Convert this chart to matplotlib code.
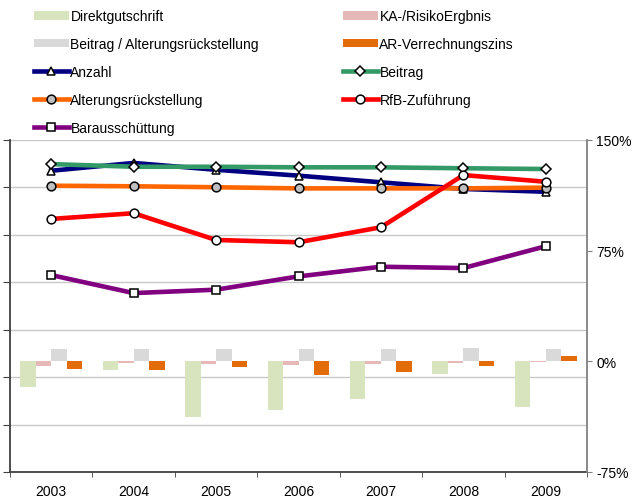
import matplotlib
matplotlib.use("Agg")
import matplotlib.pyplot as plt
import numpy as np
from matplotlib.patches import Patch
from matplotlib.ticker import FuncFormatter

plt.rcParams['font.family'] = ['Liberation Sans', 'DejaVu Sans']

years = ['2003', '2004', '2005', '2006', '2007', '2008', '2009']

# bar series (right axis, percent)
direktgutschrift = [-17.4, -6.1, -37.6, -32.9, -25.7, -8.8, -30.9]
ka_risiko = [-3.2, -1.1, -1.8, -2.5, -1.8, -1.1, -0.7]
beitrag_ar = [8.1, 8.1, 8.1, 8.1, 8.1, 8.8, 8.1]
ar_zins = [-5.4, -6.1, -4.1, -9.2, -7.4, -3.4, 3.4]

# line series (left axis, index)
anzahl = [108.8, 112.9, 109.3, 106.2, 102.7, 99.2, 97.7]
beitrag = [112.3, 110.9, 110.9, 110.6, 110.6, 110.1, 109.7]
alterungsrueckstellung = [100.9, 100.6, 100.1, 99.5, 99.5, 99.5, 99.9]
rfb_zufuehrung = [83.4, 86.4, 72.3, 71.1, 79.0, 106.5, 103.0]
barausschuettung = [53.8, 44.3, 46.1, 53.1, 58.2, 57.5, 69.0]

left_ticks = [-50, -25, 0, 25, 50, 75, 100, 125]
right_ticks = [-75, 0, 75, 150]

FS = 10
W, H = 641, 502
fig = plt.figure(figsize=(W / 100, H / 100), dpi=100)
ax = fig.add_axes([10 / W, 1 - 473 / H, 577 / W, 332 / H])
x = np.arange(len(years))

# primary axis: gridlines only
ax.set_xlim(-0.5, len(years) - 0.5)
ax.set_ylim(left_ticks[0], left_ticks[-1])
ax.set_yticks(left_ticks)
ax.tick_params(axis='y', which='major', direction='out', length=5,
               color='#404040', labelleft=False)
ax.grid(axis='y', color='#C8C8C8', linewidth=1.0)
ax.set_axisbelow(True)
ax.set_xticks(x)
ax.set_xticklabels(years, fontsize=FS)
ax.set_xticks(np.arange(-0.5, len(years)), minor=True)
ax.tick_params(axis='x', which='major', length=0, pad=9)
ax.tick_params(axis='x', which='minor', direction='out', length=3.5,
               color='#404040')
for s in ['top', 'right']:
    ax.spines[s].set_visible(False)
ax.spines['left'].set_color('#404040')
ax.spines['left'].set_linewidth(1.3)
ax.spines['bottom'].set_color('#404040')
ax.spines['bottom'].set_linewidth(1.3)

# secondary axis: bars in percent
ax2 = ax.twinx()
ax2.set_ylim(right_ticks[0], right_ticks[-1])
ax2.set_yticks(right_ticks)
ax2.yaxis.set_major_formatter(FuncFormatter(lambda v, p: f"{v:.0f}%"))
ax2.tick_params(axis='y', direction='out', length=3.5, pad=3,
                color='#808080', labelsize=FS)
for s in ['top', 'left', 'bottom']:
    ax2.spines[s].set_visible(False)
ax2.spines['right'].set_color('#808080')
ax2.spines['right'].set_linewidth(1.3)

bw = 0.188
bar_series = [
    (direktgutschrift, '#D7E4BD', 'Direktgutschrift'),
    (ka_risiko, '#E6B9B8', 'KA-/RisikoErgbnis'),
    (beitrag_ar, '#D9D9D9', 'Beitrag / Alterungsrückstellung'),
    (ar_zins, '#E36C09', 'AR-Verrechnungszins'),
]
for i, (vals, col, lab) in enumerate(bar_series):
    ax2.bar(x + (i - 1.5) * bw, vals, width=bw, color=col, linewidth=0)

# third axis: lines on the index scale
ax3 = ax.twinx()
ax3.set_ylim(left_ticks[0], left_ticks[-1])
ax3.set_yticks([])
for s in ax3.spines.values():
    s.set_visible(False)

LW = 3.3
MS = 6.3
line_series = [
    (anzahl, '#000080', '^', 'white', 'Anzahl'),
    (beitrag, '#339966', 'D', 'white', 'Beitrag'),
    (alterungsrueckstellung, '#FF6600', 'o', '#BFBFBF', 'Alterungsrückstellung'),
    (rfb_zufuehrung, '#FF0000', 'o', 'white', 'RfB-Zuführung'),
    (barausschuettung, '#800080', 's', 'white', 'Barausschüttung'),
]
handles = {}
for vals, col, mk, mfc, lab in line_series:
    ms = MS * 0.85 if mk == 'D' else MS
    ln, = ax3.plot(x, vals, color=col, linewidth=LW, marker=mk,
                   markersize=ms, markerfacecolor=mfc,
                   markeredgecolor='black', markeredgewidth=1.1,
                   solid_joinstyle='round')
    handles[lab] = ln
for vals, col, lab in bar_series:
    handles[lab] = Patch(facecolor=col, edgecolor='none')

col1 = ['Direktgutschrift', 'Beitrag / Alterungsrückstellung', 'Anzahl',
        'Alterungsrückstellung', 'Barausschüttung']
col2 = ['KA-/RisikoErgbnis', 'AR-Verrechnungszins', 'Beitrag', 'RfB-Zuführung']

leg_kw = dict(loc='upper left', frameon=False, fontsize=FS, borderpad=0,
              borderaxespad=0, handlelength=2.5, handletextpad=0.12,
              labelspacing=1.0, handleheight=0.6)
fig.legend([handles[k] for k in col1], col1,
           bbox_to_anchor=(34 / W, 1 - 10 / H), **leg_kw)
fig.legend([handles[k] for k in col2], col2,
           bbox_to_anchor=(343 / W, 1 - 10 / H), **leg_kw)

fig.savefig('out.png', dpi=100)
